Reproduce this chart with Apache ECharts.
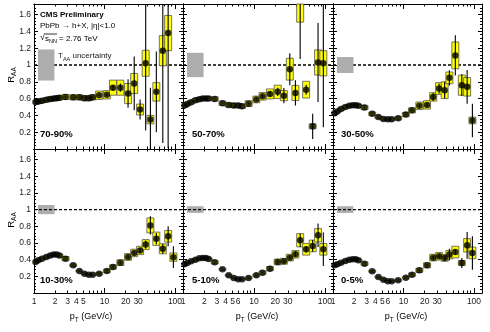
<!DOCTYPE html>
<html><head><meta charset="utf-8">
<script src="https://cdn.jsdelivr.net/npm/echarts@6/dist/echarts.min.js"></script>
<style>html,body{margin:0;padding:0;background:#fff}#c{width:490px;height:332px}</style>
</head><body><div id="c"></div>
<script>
// ---------- data ----------
const pT = [1.05,1.15,1.3,1.5,1.7,1.9,2.1,2.3,2.8,3.6,4.4,5.2,6.0,6.8,8.4,10.8,13.2,16.8,21.6,26.4,32.0,38.4,44.8,54.4,67.2,80.0,95.0];
const centralities = ['70-90%','50-70%','30-50%','10-30%','5-10%','0-5%'];

const raa7090  = [0.56,0.565,0.575,0.585,0.595,0.60,0.605,0.61,0.62,0.615,0.615,0.605,0.605,0.615,0.64,0.645,0.73,0.73,0.66,0.78,0.47,1.02,0.35,0.68,1.17,1.38,null];
const sys7090  = [0.025,0.025,0.025,0.025,0.025,0.025,0.025,0.025,0.03,0.03,0.03,0.03,0.03,0.03,0.05,0.05,0.09,0.09,0.12,0.12,0.065,0.155,0.05,0.11,0.18,0.21,null];
const stat7090 = [0.005,0.005,0.005,0.005,0.005,0.005,0.005,0.005,0.005,0.005,0.005,0.005,0.01,0.01,0.01,0.015,0.03,0.05,0.17,0.32,0.12,0.8,0.38,0.48,1.1,1.37,null];

const raa5070  = [0.518,0.537,0.557,0.58,0.592,0.60,0.60,0.60,0.596,0.545,0.525,0.518,0.518,0.51,0.54,0.59,0.627,0.655,0.68,0.635,0.95,0.667,1.9,0.706,0.27,1.03,1.02];
const sys5070  = [0.02,0.02,0.02,0.02,0.02,0.02,0.02,0.02,0.025,0.025,0.025,0.025,0.025,0.025,0.035,0.04,0.045,0.06,0.08,0.06,0.13,0.09,0.39,0.1,0.03,0.15,0.15];
const stat5070 = [0.005,0.005,0.005,0.005,0.005,0.005,0.005,0.005,0.005,0.005,0.005,0.005,0.005,0.005,0.01,0.01,0.02,0.03,0.05,0.09,0.19,0.15,0.83,0.06,0.15,0.47,0.76];

const raa3050  = [0.427,0.447,0.475,0.50,0.514,0.52,0.52,0.514,0.494,0.42,0.38,0.357,0.353,0.353,0.365,0.41,0.46,0.514,0.525,0.62,0.72,0.70,0.847,1.114,0.76,0.74,0.34];
const sys3050  = [0.015,0.015,0.015,0.015,0.015,0.015,0.015,0.015,0.025,0.02,0.015,0.015,0.015,0.015,0.02,0.025,0.03,0.045,0.05,0.05,0.07,0.1,0.07,0.16,0.12,0.11,0.04];
const stat3050 = [0.004,0.004,0.004,0.004,0.004,0.004,0.004,0.004,0.004,0.004,0.004,0.004,0.004,0.004,0.005,0.008,0.01,0.015,0.02,0.05,0.06,0.1,0.09,0.24,0.13,0.2,0.2];

const raa1030  = [0.372,0.392,0.412,0.432,0.448,0.46,0.46,0.448,0.412,0.332,0.264,0.232,0.22,0.22,0.232,0.264,0.312,0.364,0.432,0.48,0.51,0.58,0.81,0.65,0.53,0.68,0.43];
const sys1030  = [0.015,0.015,0.015,0.015,0.015,0.015,0.015,0.015,0.025,0.015,0.01,0.01,0.01,0.01,0.015,0.02,0.025,0.035,0.04,0.045,0.05,0.06,0.09,0.08,0.06,0.07,0.05];
const stat1030 = [0.003,0.003,0.003,0.003,0.003,0.003,0.003,0.003,0.003,0.003,0.003,0.003,0.003,0.003,0.004,0.005,0.008,0.01,0.015,0.02,0.03,0.05,0.11,0.07,0.06,0.12,0.13];

const raa0510  = [0.344,0.36,0.38,0.40,0.416,0.42,0.42,0.408,0.368,0.284,0.212,0.18,0.164,0.164,0.18,0.212,0.244,0.292,0.372,0.38,0.424,0.464,0.632,0.524,0.564,0.692,0.524];
const sys0510  = [0.012,0.012,0.012,0.012,0.012,0.012,0.012,0.012,0.02,0.012,0.01,0.01,0.01,0.01,0.012,0.015,0.02,0.025,0.035,0.035,0.04,0.045,0.08,0.07,0.07,0.08,0.07];
const stat0510 = [0.003,0.003,0.003,0.003,0.003,0.003,0.003,0.003,0.003,0.003,0.003,0.003,0.003,0.003,0.004,0.005,0.007,0.01,0.015,0.02,0.02,0.03,0.08,0.04,0.07,0.14,0.2];

const raa0005  = [0.332,0.344,0.364,0.384,0.40,0.404,0.404,0.392,0.352,0.26,0.192,0.16,0.14,0.14,0.152,0.184,0.22,0.272,0.332,0.424,0.44,0.42,0.46,0.49,0.36,0.572,0.48];
const sys0005  = [0.012,0.012,0.012,0.012,0.012,0.012,0.012,0.012,0.02,0.012,0.01,0.01,0.01,0.01,0.012,0.015,0.02,0.025,0.03,0.04,0.045,0.04,0.05,0.07,0.03,0.08,0.07];
const stat0005 = [0.003,0.003,0.003,0.003,0.003,0.003,0.003,0.003,0.003,0.003,0.003,0.003,0.003,0.003,0.004,0.005,0.007,0.01,0.015,0.02,0.02,0.03,0.07,0.03,0.06,0.16,0.2];

const taaUnc = [0.185, 0.145, 0.095, 0.055, 0.04, 0.04];
const taaBoxPt = [1.14, 1.95];

const xMajorTicks = [1, 10, 100];
const xMinorTicks = [2,3,4,5,6,7,8,9,20,30,40,50,60,70,80,90];
const xLabelsFirst = [1,2,3,4,5,10,20,30,100];
const xLabelsRest  = [1,2,3,4,5,6,10,20,30,100];

// ---------- layout ----------
const FONT = "'Liberation Sans', Arial, Helvetica, sans-serif";
const cols = [{left:34,width:149},{left:183,width:150},{left:333,width:149}];
const rows = [{top:4,height:145},{top:149,height:144}];
const Y_MAX = 1.726, X_MAX = Math.log10(130);

const panels = [
  {raa:raa7090, sys:sys7090, stat:stat7090},
  {raa:raa5070, sys:sys5070, stat:stat5070},
  {raa:raa3050, sys:sys3050, stat:stat3050},
  {raa:raa1030, sys:sys1030, stat:stat1030},
  {raa:raa0510, sys:sys0510, stat:stat0510},
  {raa:raa0005, sys:sys0005, stat:stat0005}
];

function csRect(params){ const c=params.coordSys; return {x:c.x,y:c.y,width:c.width,height:c.height}; }

function boxRender(params, api){
  const x=api.value(0), y=api.value(1), s=api.value(2);
  const p1=api.coord([x,y+s]), p2=api.coord([x,y-s]);
  const w=7;
  const r=echarts.graphic.clipRectByRect({x:p1[0]-w/2,y:p1[1],width:w,height:p2[1]-p1[1]}, csRect(params));
  return r && {type:'rect', shape:r, style:{fill:'#ffff00', stroke:'#555', lineWidth:0.8}};
}
function statRender(params, api){
  const x=api.value(0), y=api.value(1), e=api.value(3);
  const c=csRect(params);
  const p1=api.coord([x,y+e]), p2=api.coord([x,y-e]);
  const y1=Math.max(c.y, Math.min(c.y+c.height, p1[1]));
  const y2=Math.max(c.y, Math.min(c.y+c.height, p2[1]));
  if (y2-y1 < 0.5) return null;
  return {type:'line', shape:{x1:p1[0],y1:y1,x2:p1[0],y2:y2}, style:{stroke:'#000', lineWidth:1.1}};
}
function taaRender(params, api){
  const p1=api.coord([api.value(0), 1+api.value(2)]);
  const p2=api.coord([api.value(1), 1-api.value(2)]);
  return {type:'rect', shape:{x:p1[0],y:p1[1],width:p2[0]-p1[0],height:p2[1]-p1[1]}, style:{fill:'#adadad'}};
}
function unityRender(params, api){
  const c=csRect(params);
  const p=api.coord([0,api.value(1)]);
  return {type:'line', shape:{x1:c.x,y1:p[1],x2:c.x+c.width,y2:p[1]}, style:{stroke:'#000', lineWidth:1.3, lineDash:[3,2]}};
}

const grids=[], xAxes=[], yAxes=[], series=[];
panels.forEach((p,i)=>{
  const r=Math.floor(i/3), c=i%3;
  grids.push({left:cols[c].left, width:cols[c].width, top:rows[r].top, height:rows[r].height, containLabel:false, show:false});
  const bottomRow = r===1;
  const labelVals = (c===0?xLabelsFirst:xLabelsRest).map(v=>Math.log10(v));
  const xBase = {type:'value', gridIndex:i, min:0, max:X_MAX, splitLine:{show:false},
    axisLine:{show:true,onZero:false,lineStyle:{color:'#000',width:1}}};
  const maj = xMajorTicks.map(v=>Math.log10(v)), mnr = xMinorTicks.map(v=>Math.log10(v));
  xAxes.push(Object.assign({}, xBase, {position:'bottom',
    axisTick:{show:true,inside:true,length:5,customValues:maj,lineStyle:{color:'#000'}},
    axisLabel:{show:bottomRow, customValues:labelVals, formatter:v=>String(Math.round(Math.pow(10,v))),
      fontSize:8.5, fontFamily:FONT, color:'#222', margin:4}}));
  xAxes.push(Object.assign({}, xBase, {position:'bottom',
    axisTick:{show:true,inside:true,length:2.5,customValues:mnr,lineStyle:{color:'#000'}}, axisLabel:{show:false}}));
  xAxes.push(Object.assign({}, xBase, {position:'top',
    axisTick:{show:true,inside:true,length:5,customValues:maj,lineStyle:{color:'#000'}}, axisLabel:{show:false}}));
  xAxes.push(Object.assign({}, xBase, {position:'top',
    axisTick:{show:true,inside:true,length:2.5,customValues:mnr,lineStyle:{color:'#000'}}, axisLabel:{show:false}}));
  const yBase = {type:'value', gridIndex:i, min:0, max:Y_MAX, interval:0.2, splitLine:{show:false},
    axisLine:{show:true,onZero:false,lineStyle:{color:'#000',width:1}},
    axisTick:{show:true,inside:true,length:4,lineStyle:{color:'#000'}},
    minorTick:{show:true,splitNumber:5,length:2,lineStyle:{color:'#000'}}};
  yAxes.push(Object.assign({}, yBase, {position:'left',
    axisLabel:{show:c===0, fontSize:8.5, fontFamily:FONT, color:'#222', margin:3,
      formatter:v=>{const k=Math.round(v*5); if(k<1||k>8||Math.abs(v*5-k)>1e-6) return ''; return String(k/5);}}}));
  yAxes.push(Object.assign({}, yBase, {position:'right', axisLabel:{show:false}}));

  const xi=4*i, yi=2*i;
  const pts=[];
  pT.forEach((x,k)=>{ if(p.raa[k]!=null) pts.push([Math.log10(x), p.raa[k], p.sys[k], p.stat[k]]); });
  series.push({type:'custom', xAxisIndex:xi, yAxisIndex:yi, z: r===0?3:1, silent:true,
    data:[[Math.log10(taaBoxPt[0]), Math.log10(taaBoxPt[1]), taaUnc[i]]], renderItem:taaRender});
  series.push({type:'custom', xAxisIndex:xi, yAxisIndex:yi, z:2, silent:true, data:[[0,1]], renderItem:unityRender});
  series.push({type:'custom', xAxisIndex:xi, yAxisIndex:yi, z:4, silent:true, data:pts, renderItem:boxRender});
  series.push({type:'custom', xAxisIndex:xi, yAxisIndex:yi, z:5, silent:true, data:pts, renderItem:statRender});
  series.push({type:'scatter', xAxisIndex:xi, yAxisIndex:yi, z:6, silent:true, clip:true,
    data:pts.map(d=>[d[0],d[1]]), symbol:'circle', symbolSize:6.5, itemStyle:{color:'#000'}});
});

// ---------- texts ----------
const txt = (x,y,text,font,extra)=>Object.assign({type:'text', x:x, y:y, silent:true,
  style:{text:text, font:font, fill:'#000', textAlign:'left', textVerticalAlign:'middle', align:'left', verticalAlign:'middle'}}, extra||{});
const graphics = [
  txt(40,15,'CMS Preliminary',`bold 8px ${FONT}`),
  txt(40,26,'PbPb \u2192 h+X, |\u03b7|<1.0',`8px ${FONT}`),
  {type:'text', x:40, y:39, silent:true, style:{text:'{n|\u221a}{s|s}{b|NN}{t| = 2.76 TeV}', fill:'#000',
    textAlign:'left', textVerticalAlign:'middle', align:'left', verticalAlign:'middle',
    rich:{n:{fontSize:9,fontFamily:FONT,verticalAlign:'bottom',padding:[0,0,2,0]},
          s:{fontSize:8,fontFamily:FONT,verticalAlign:'bottom',padding:[0,0,2,0]},
          b:{fontSize:5.5,fontFamily:FONT,verticalAlign:'bottom'},
          t:{fontSize:8,fontFamily:FONT,verticalAlign:'bottom',padding:[0,0,2,0]}}}},
  {type:'line', silent:true, shape:{x1:45,y1:34,x2:57,y2:34}, style:{stroke:'#000',lineWidth:0.8}},
  {type:'text', x:58, y:57, silent:true, style:{text:'{a|T}{b|AA}{a| uncertainty}', fill:'#222',
    textAlign:'left', textVerticalAlign:'middle', align:'left', verticalAlign:'middle',
    rich:{a:{fontSize:8,fontFamily:FONT,verticalAlign:'bottom',padding:[0,0,2,0]},
          b:{fontSize:5.5,fontFamily:FONT,verticalAlign:'bottom'}}}}
];
const labPos = [[40,134],[192,134],[341,134],[40,280],[192,280],[341,280]];
centralities.forEach((t,i)=>graphics.push(txt(labPos[i][0],labPos[i][1],t,`bold 9.5px ${FONT}`)));
[75,220].forEach(y=>graphics.push({type:'text', x:12, y:y, rotation:Math.PI/2, silent:true,
  style:{text:'{r|R}{s|AA}', fill:'#000', textAlign:'center', textVerticalAlign:'middle', align:'center', verticalAlign:'middle',
    rich:{r:{fontSize:9.5,fontFamily:FONT,verticalAlign:'bottom',padding:[0,0,2,0]},
          s:{fontSize:6.5,fontFamily:FONT,verticalAlign:'bottom'}}}}));
[91,257,406].forEach(x=>graphics.push({type:'text', x:x, y:318, silent:true,
  style:{text:'{a|p}{b|T}{a| (GeV/c)}', fill:'#000', textAlign:'center', textVerticalAlign:'middle', align:'center', verticalAlign:'middle',
    rich:{a:{fontSize:9,fontFamily:FONT,verticalAlign:'bottom',padding:[0,0,2,0]},
          b:{fontSize:6.5,fontFamily:FONT,verticalAlign:'bottom'}}}}));

const chart = echarts.init(document.getElementById('c'), null, {renderer:'canvas'});
chart.setOption({animation:false, backgroundColor:'#fff', grid:grids, xAxis:xAxes, yAxis:yAxes, series:series, graphic:graphics});
</script></body></html>
